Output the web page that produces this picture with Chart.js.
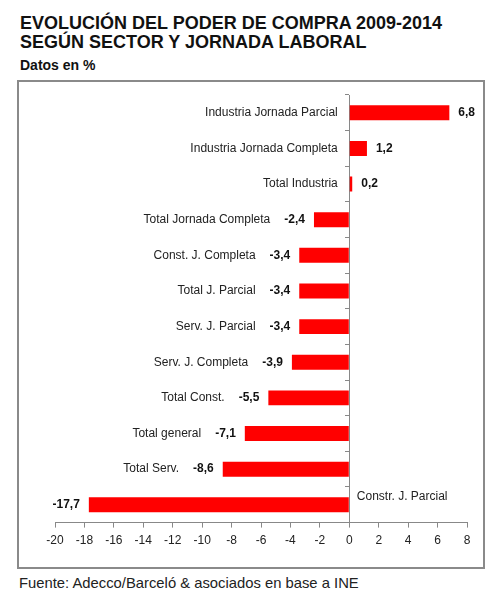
<!DOCTYPE html>
<html>
<head>
<meta charset="utf-8">
<script src="https://cdn.jsdelivr.net/npm/chart.js@4"></script>
<style>
  body { margin: 0; background: #fff; font-family: "Liberation Sans", Arial, sans-serif; }
  #page { position: relative; width: 503px; height: 600px; }
  .t { position: absolute; left: 20px; font-weight: bold; color: #111; white-space: nowrap; }
  #box { position: absolute; left: 17px; top: 80px; width: 464px; height: 485px; border: 2px solid #8a8a8a; }
  #foot { position: absolute; left: 19px; top: 575px; font-size: 14.8px; color: #222; }
</style>
</head>
<body>
<div id="page">
  <div class="t" style="top:13px;font-size:18px;">EVOLUCIÓN DEL PODER DE COMPRA 2009-2014</div>
  <div class="t" style="top:32px;font-size:18px;">SEGÚN SECTOR Y JORNADA LABORAL</div>
  <div class="t" style="top:57px;font-size:14px;">Datos en %</div>
  <div id="box"><canvas id="chart"></canvas></div>
  <div id="foot">Fuente: Adecco/Barceló &amp; asociados en base a INE</div>
</div>
<script>
// categories, top to bottom
const categories = [
  "Industria Jornada Parcial",
  "Industria Jornada Completa",
  "Total Industria",
  "Total Jornada Completa",
  "Const. J. Completa",
  "Total J. Parcial",
  "Serv. J. Parcial",
  "Serv. J. Completa",
  "Total Const.",
  "Total general",
  "Total Serv.",
  "Constr. J. Parcial"
];
const values = [6.8, 1.2, 0.2, -2.4, -3.4, -3.4, -3.4, -3.9, -5.5, -7.1, -8.6, -17.7];

const fmt = v => v.toFixed(1).replace(".", ",");

// draws value labels and category names next to each bar
const barLabels = {
  id: "barLabels",
  afterDatasetsDraw(chart) {
    const ctx = chart.ctx;
    const area = chart.chartArea;
    const meta = chart.getDatasetMeta(0);
    ctx.save();
    ctx.textBaseline = "middle";
    meta.data.forEach((bar, i) => {
      const v = values[i];
      const y = bar.y;
      const base = bar.base;
      const txt = fmt(v);
      ctx.font = "bold 12px 'Liberation Sans', Arial";
      ctx.fillStyle = "#111";
      let catRight;
      if (v >= 0) {
        ctx.textAlign = "left";
        ctx.fillText(txt, bar.x + 9, y);
        catRight = base - 12;
      } else {
        ctx.textAlign = "right";
        ctx.fillText(txt, bar.x - 9, y);
        catRight = bar.x - 9 - ctx.measureText(txt).width - 14;
      }
      ctx.font = "12px 'Liberation Sans', Arial";
      ctx.fillStyle = "#222";
      const w = ctx.measureText(categories[i]).width;
      if (catRight - w < area.left - 30) {
        // no room on the left: put the name to the right of the axis
        ctx.textAlign = "left";
        ctx.fillText(categories[i], base + 8, y - 8);
      } else {
        ctx.textAlign = "right";
        ctx.fillText(categories[i], catRight, y);
      }
    });
    ctx.restore();
  }
};

new Chart(document.getElementById("chart"), {
  type: "bar",
  data: {
    labels: categories,
    datasets: [{
      data: values,
      backgroundColor: "#ff0000",
      barPercentage: 0.42,
      categoryPercentage: 1
    }]
  },
  options: {
    indexAxis: "y",
    responsive: true,
    maintainAspectRatio: false,
    animation: false,
    layout: { padding: { left: 36, right: 16, top: 13, bottom: 13 } },
    plugins: { legend: { display: false }, tooltip: { enabled: false } },
    scales: {
      x: {
        min: -20,
        max: 8,
        ticks: { stepSize: 2, color: "#222", font: { family: "'Liberation Sans', Arial", size: 12 }, padding: 6 },
        grid: { drawOnChartArea: false, tickLength: 5, color: "#888" },
        border: { color: "#888" }
      },
      y: {
        position: { x: 0 },
        afterFit(s) { s.width = 0; },
        ticks: { display: false },
        grid: { drawOnChartArea: false, tickLength: 4, color: "#888", offset: true },
        border: { color: "#888" }
      }
    }
  },
  plugins: [barLabels]
});
</script>
</body>
</html>
